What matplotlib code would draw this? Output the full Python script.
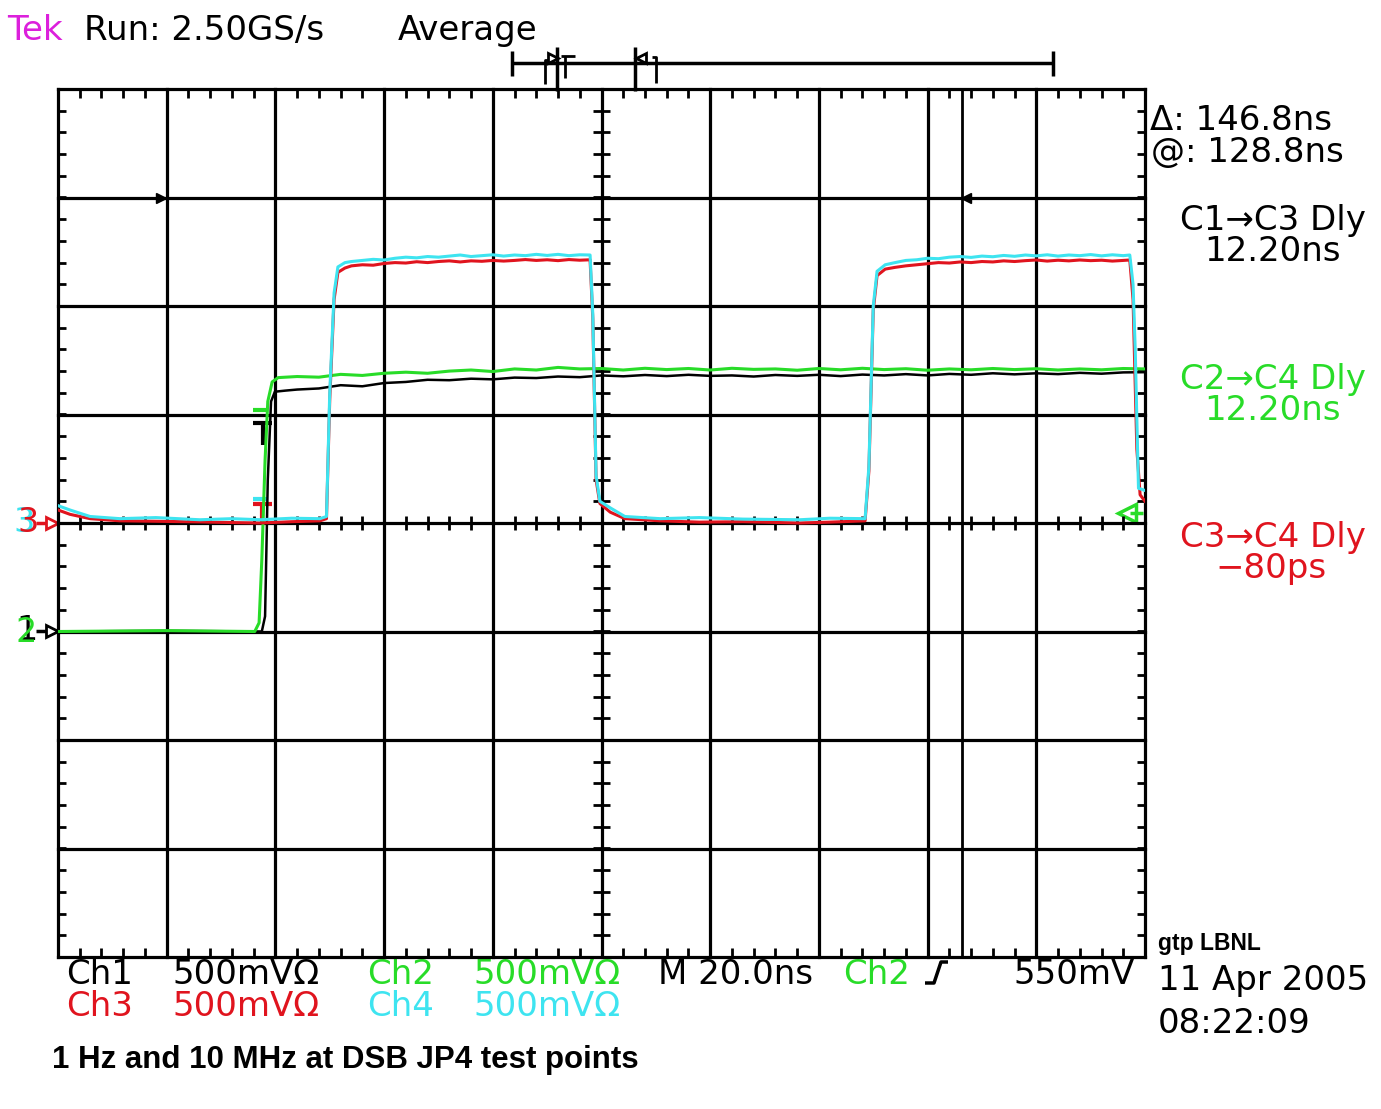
import numpy as np
import matplotlib.pyplot as plt

W, H = 1381, 1109

# scope settings: 20 ns/div over 10 div, 500 mV/div over 8 div
NS_PER_DIV = 20.0
V_PER_DIV = 0.5

# Ch1 (black) 1 Hz edge, volts vs ns, ground marker at -1 div
ch1_t = [0, 20, 37.5, 38.1, 38.6, 39.2, 39.9, 41.8, 44, 48, 52, 56, 60, 64, 68, 72,
         76, 80, 84, 88, 92, 96, 100, 104, 108, 112, 116, 120, 124, 128, 132, 136,
         140, 144, 148, 152, 156, 160, 164, 168, 172, 176, 180, 184, 188, 192, 196, 200]
ch1_v = [0, 0.003, 0, 0.07, 0.7, 1.06, 1.105, 1.11, 1.115, 1.12, 1.135, 1.13, 1.145,
         1.15, 1.16, 1.158, 1.165, 1.162, 1.17, 1.168, 1.175, 1.172, 1.18, 1.176,
         1.182, 1.177, 1.183, 1.178, 1.18, 1.175, 1.182, 1.178, 1.183, 1.177, 1.184,
         1.18, 1.186, 1.18, 1.187, 1.183, 1.19, 1.185, 1.19, 1.186, 1.192, 1.188,
         1.194, 1.195]

# Ch2 (green) 1 Hz edge, volts vs ns, ground marker at -1 div
ch2_t = [0, 20, 36.2, 37.0, 37.5, 38.1, 38.6, 39.4, 40.5, 44, 48, 52, 56, 60, 64,
         68, 72, 76, 80, 84, 88, 92, 96, 100, 104, 108, 112, 116, 120, 124, 128, 132,
         136, 140, 144, 148, 152, 156, 160, 164, 168, 172, 176, 180, 184, 188, 192,
         196, 200]
ch2_v = [0, 0.004, 0, 0.04, 0.33, 0.79, 1.06, 1.15, 1.17, 1.175, 1.172, 1.185, 1.18,
         1.19, 1.195, 1.19, 1.2, 1.205, 1.198, 1.21, 1.205, 1.217, 1.21, 1.212,
         1.205, 1.213, 1.207, 1.212, 1.205, 1.213, 1.208, 1.21, 1.204, 1.212, 1.206,
         1.213, 1.207, 1.211, 1.204, 1.21, 1.206, 1.212, 1.207, 1.211, 1.205, 1.21,
         1.206, 1.212, 1.21]

# Ch3 (red) 10 MHz clock, volts vs ns, ground marker at 0 div
ch3_t = [0, 2.2, 5.9, 11.4, 18, 26.1, 32, 37.2, 43, 48.2, 49.4, 50.0, 50.8, 51.5,
         52.8, 54, 56, 58, 60, 62, 64, 66, 68, 70, 72, 74, 76, 78, 80, 82, 84, 86,
         88, 90, 92, 94, 96, 97.9, 98.4, 99.0, 99.7, 101.6, 104.3, 110.8, 118, 126,
         136.5, 142, 148.5, 149.2, 150.0, 150.7, 152.2, 154, 156, 158, 160, 162, 164,
         166, 168, 170, 172, 174, 176, 178, 180, 182, 184, 186, 188, 190, 192, 194,
         196, 197.2, 197.8, 198.5, 199.1, 200]
ch3_v = [0.06, 0.04, 0.02, 0.01, 0.008, 0.005, 0.002, 0.0, 0.006, 0.01, 0.02, 0.57,
         1.03, 1.155, 1.175, 1.185, 1.19, 1.188, 1.196, 1.2, 1.198, 1.204, 1.2, 1.205,
         1.208, 1.203, 1.208, 1.206, 1.21, 1.207, 1.21, 1.214, 1.21, 1.213, 1.209,
         1.214, 1.211, 1.213, 0.94, 0.2, 0.09, 0.05, 0.02, 0.01, 0.004, 0.006, 0.0,
         0.004, 0.01, 0.24, 0.98, 1.14, 1.17, 1.178, 1.185, 1.19, 1.195, 1.2, 1.198,
         1.203, 1.2, 1.205, 1.203, 1.208, 1.205, 1.209, 1.212, 1.207, 1.211, 1.208,
         1.212, 1.209, 1.211, 1.207, 1.21, 1.212, 1.03, 0.34, 0.13, 0.1]

# Ch4 (cyan) 10 MHz clock, volts vs ns, ground marker at 0 div
ch4_t = [0, 2.2, 5.9, 11.4, 18, 26.1, 32, 37.2, 43, 48.2, 49.4, 50.0, 50.8, 51.5,
         52.8, 54, 56, 58, 60, 62, 64, 66, 68, 70, 72, 74, 76, 78, 80, 82, 84, 86,
         88, 90, 92, 94, 96, 97.9, 98.4, 99.0, 99.7, 101.6, 104.3, 110.8, 118, 126,
         136.5, 142, 148.5, 149.2, 150.0, 150.7, 152.2, 154, 156, 158, 160, 162, 164,
         166, 168, 170, 172, 174, 176, 178, 180, 182, 184, 186, 188, 190, 192, 194,
         196, 197.2, 197.8, 198.2, 198.8, 200]
ch4_v = [0.08, 0.06, 0.03, 0.02, 0.025, 0.015, 0.02, 0.015, 0.022, 0.02, 0.03, 0.6,
         1.06, 1.18, 1.2, 1.205, 1.21, 1.215, 1.212, 1.22, 1.225, 1.222, 1.228, 1.225,
         1.23, 1.235, 1.228, 1.232, 1.236, 1.23, 1.235, 1.232, 1.238, 1.233, 1.238,
         1.232, 1.236, 1.235, 0.96, 0.22, 0.1, 0.07, 0.03, 0.02, 0.025, 0.018, 0.015,
         0.022, 0.02, 0.26, 1.0, 1.16, 1.19, 1.2, 1.21, 1.213, 1.22, 1.218, 1.225,
         1.228, 1.224, 1.23, 1.227, 1.233, 1.229, 1.235, 1.231, 1.236, 1.23, 1.235,
         1.232, 1.237, 1.231, 1.236, 1.232, 1.235, 1.1, 0.8, 0.16, 0.15]

ch_offsets = {'ch1': -1, 'ch2': -1, 'ch3': 0, 'ch4': 0}

RED = '#e0141e'
CYAN = '#3ee4f0'
GREEN = '#28dc28'
MAGENTA = '#dc20dc'

fig = plt.figure(figsize=(W / 100, H / 100), dpi=100)

# overlay in pixel coordinates for the scope readouts
ov = fig.add_axes([0, 0, 1, 1])
ov.set_xlim(0, W)
ov.set_ylim(H, 0)
ov.axis('off')

ax = fig.add_axes([58 / W, 1 - 957 / H, (1145 - 58) / W, (957 - 89) / H], zorder=2)
ax.set_facecolor('none')
ax.set_xlim(0, 10 * NS_PER_DIV)
ax.set_ylim(-4, 4)
ax.axis('off')

# graticule
for t in np.arange(0, 201, NS_PER_DIV):
    ax.axvline(t, color='black', lw=2.3, zorder=1, clip_on=False)
for d in range(-4, 5):
    ax.axhline(d, color='black', lw=2.3, zorder=1, clip_on=False)

mt = np.arange(0, 200.1, NS_PER_DIV / 5)
my = np.arange(-4, 4.01, 0.2)
ty, tx = 0.08, 1.5
kw = dict(color='black', lw=2, zorder=1, clip_on=False)
ax.vlines(mt, 4 - ty, 4, **kw)
ax.vlines(mt, -4, -4 + ty, **kw)
ax.vlines(mt, -0.06, 0.06, **kw)
ax.hlines(my, 0, tx, **kw)
ax.hlines(my, 200 - tx, 200, **kw)
ax.hlines(my, 100 - tx, 100 + tx, **kw)

# cursor line
ax.axvline(166.3, color='black', lw=2, zorder=1)

def div(v, ch):
    return np.array(v) / V_PER_DIV + ch_offsets[ch]

ax.plot(ch1_t, div(ch1_v, 'ch1'), color='black', lw=1.8, zorder=3)
ax.plot(ch2_t, div(ch2_v, 'ch2'), color=GREEN, lw=2.2, zorder=4)
ax.plot(ch3_t, div(ch3_v, 'ch3'), color=RED, lw=2.2, zorder=5)
ax.plot(ch4_t, div(ch4_v, 'ch4'), color=CYAN, lw=2.2, zorder=6)

# --- pixel-space decorations ---
def seg(xs, ys, c='black', lw=2.5):
    ov.plot(xs, ys, color=c, lw=lw, solid_capstyle='butt')

# horizontal cursor arrows
ov.plot([161], [198], marker='>', color='black', ms=7)
ov.plot([966], [198], marker='<', color='black', ms=7)

# record view bar on top
seg([512, 1053], [63, 63])
seg([512, 512], [51, 76])
seg([1053, 1053], [51, 76])
seg([557, 557], [47, 91])
seg([635, 635], [47, 91])
seg([545, 545, 549], [84, 60, 60], lw=2)
seg([561, 575], [56, 56], lw=2)
seg([565, 565], [56, 78], lw=2)
seg([652, 656, 656], [57, 57, 83], lw=2)
ov.plot([553], [58], marker='>', color='black', ms=7, mfc='white', mew=2)
ov.plot([641], [58], marker='<', color='black', ms=7, mfc='white', mew=2)

# measurement cursor markers near the edge
seg([253, 267], [410, 410], c=GREEN, lw=3)
seg([253, 272], [423, 423], lw=3)
seg([263, 263], [423, 445], lw=3)
seg([253, 268], [499, 499], c=CYAN, lw=3)
seg([253, 272], [504, 504], c=RED, lw=3)
seg([262, 262], [504, 524], c=RED, lw=3)

# trigger level marker
ov.plot([1127], [513], marker='<', ms=13, mfc='white', mec=GREEN, mew=2.5)
seg([1130, 1143], [513, 513], c=GREEN, lw=2.5)

# channel ground markers
sf = dict(fontsize=24, family='DejaVu Sans', va='center', ha='left')
ov.text(13, 523, '3', color=CYAN, **sf)
ov.text(17, 523, '3', color=RED, **sf)
seg([36, 48], [523, 523], c=RED, lw=2.5)
ov.plot([52], [523], marker='>', color=RED, ms=8, mfc='white', mew=2)
ov.text(16, 630, '1', color='black', **sf)
ov.text(15, 633, '2', color=GREEN, **sf)
seg([36, 48], [631, 631], lw=2.5)
ov.plot([52], [631], marker='>', color='black', ms=8, mfc='white', mew=2)

# trigger slope glyph
seg([925, 934, 941, 948], [983, 983, 962, 962], lw=2.5)

tk = dict(fontsize=24.5, family='DejaVu Sans', va='baseline', ha='left')
ov.text(7, 40, 'Tek', color=MAGENTA, **tk)
ov.text(84, 40, 'Run: 2.50GS/s', color='black', **tk)
ov.text(398, 40, 'Average', color='black', **tk)

ov.text(1150, 130, '\u0394: 146.8ns', color='black', **tk)
ov.text(1151, 162, '@: 128.8ns', color='black', **tk)
ov.text(1180, 230, 'C1\u2192C3 Dly', color='black', **tk)
ov.text(1204, 261, '12.20ns', color='black', **tk)
ov.text(1180, 389, 'C2\u2192C4 Dly', color=GREEN, **tk)
ov.text(1204, 420, '12.20ns', color=GREEN, **tk)
ov.text(1180, 547, 'C3\u2192C4 Dly', color=RED, **tk)
ov.text(1215, 578, '\u221280ps', color=RED, **tk)

ov.text(66, 984, 'Ch1', color='black', **tk)
ov.text(172, 984, '500mV\u03a9', color='black', **tk)
ov.text(367, 984, 'Ch2', color=GREEN, **tk)
ov.text(473, 984, '500mV\u03a9', color=GREEN, **tk)
ov.text(658, 984, 'M 20.0ns', color='black', **tk)
ov.text(843, 984, 'Ch2', color=GREEN, **tk)
ov.text(1013, 984, '550mV', color='black', **tk)
ov.text(66, 1016, 'Ch3', color=RED, **tk)
ov.text(172, 1016, '500mV\u03a9', color=RED, **tk)
ov.text(367, 1016, 'Ch4', color=CYAN, **tk)
ov.text(473, 1016, '500mV\u03a9', color=CYAN, **tk)

ov.text(1158, 950, 'gtp LBNL', color='black', fontsize=16.5, family='Liberation Sans',
        weight='bold', va='baseline')
ov.text(1158, 990, '11 Apr 2005', color='black', **tk)
ov.text(1158, 1033, '08:22:09', color='black', **tk)

ov.text(52, 1068, '1 Hz and 10 MHz at DSB JP4 test points', color='black', fontsize=22.5,
        family='Liberation Sans', weight='bold', va='baseline')

fig.savefig('out.png', dpi=100, facecolor='white')
